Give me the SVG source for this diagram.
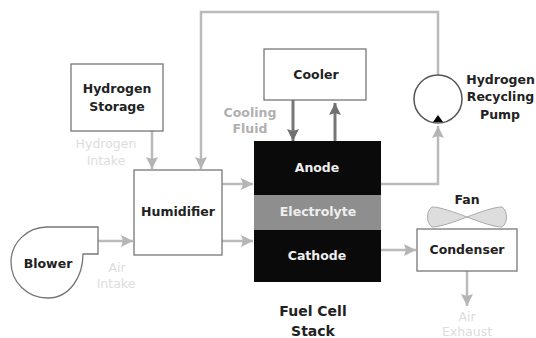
<svg xmlns="http://www.w3.org/2000/svg" width="536" height="338" viewBox="0 0 536 338">
<style>
text{font-family:"DejaVu Sans",Verdana,sans-serif;text-anchor:middle}
.b{font-size:12.5px;font-weight:700;fill:#222}
.w{font-size:12.5px;font-weight:700;fill:#eee}
.g{font-size:12.5px;font-weight:400;fill:#ddd}
.f{font-size:12.5px;font-weight:700;fill:#b0b0b0}
.s{font-size:14px;font-weight:700;fill:#222}
.box{fill:#fff;stroke:#777;stroke-width:1.3}
.l{fill:none;stroke:#bbb;stroke-width:2.5}
.d{fill:none;stroke:#777;stroke-width:3}
</style>
<defs>
<marker id="a" markerUnits="userSpaceOnUse" markerWidth="14" markerHeight="14" refX="12" refY="6" orient="auto"><path d="M0 0L12 6L0 12L2 6Z" fill="#b5b5b5"/></marker>
<marker id="k" markerUnits="userSpaceOnUse" markerWidth="14" markerHeight="14" refX="12" refY="6" orient="auto"><path d="M0 0L12 6L0 12L2 6Z" fill="#6f6f6f"/></marker>
</defs>
<rect width="536" height="338" fill="#fff"/>
<g id="connectors">
<path class="l" marker-end="url(#a)" d="M438 75V12H201V169"/>
<path class="l" marker-end="url(#a)" d="M152 131V169"/>
<path class="l" marker-end="url(#a)" d="M222 184H253"/>
<path class="l" marker-end="url(#a)" d="M222 241H253"/>
<path class="l" marker-end="url(#a)" d="M98 241H133"/>
<path class="l" marker-end="url(#a)" d="M381 184H438V126"/>
<path class="l" marker-end="url(#a)" d="M381 250H416"/>
<path class="l" marker-end="url(#a)" d="M467 271V306"/>
<path class="d" marker-end="url(#k)" d="M293 100V141"/>
<path class="d" marker-end="url(#k)" d="M335 142V103"/>
</g>
<g id="hydrogen-storage"><rect class="box" x="71" y="64" width="92" height="67"/><text class="b" x="117" y="93">Hydrogen</text><text class="b" x="117" y="111">Storage</text></g>
<g id="humidifier"><rect class="box" x="134" y="170" width="88" height="85"/><text class="b" x="178" y="216">Humidifier</text></g>
<g id="cooler"><rect class="box" x="264" y="49" width="102" height="51"/><text class="b" x="316" y="79">Cooler</text></g>
<g id="blower"><path fill="#fff" stroke="#777" stroke-width="1.3" d="M47 227H98V254H83C83 276 70 298 48 298C27 298 11 282 11 262C11 243 27 227 47 227Z"/><text class="b" x="48" y="268">Blower</text></g>
<g id="stack">
<rect x="254" y="141" width="127" height="54" fill="#0a0a0a"/>
<rect x="254" y="195" width="127" height="35" fill="#8e8e8e"/>
<rect x="254" y="230" width="127" height="52" fill="#0a0a0a"/>
<text class="w" x="317" y="172">Anode</text><text class="w" x="318" y="216">Electrolyte</text><text class="w" x="317" y="260">Cathode</text>
<text class="s" x="313" y="316">Fuel Cell</text><text class="s" x="313" y="336">Stack</text>
</g>
<g id="pump"><circle cx="438" cy="99" r="24" fill="#fff" stroke="#555" stroke-width="1.5"/><path d="M433 122L438 115L443 122Z" fill="#000"/><text class="b" x="500.500" y="84">Hydrogen</text><text class="b" x="500.500" y="101">Recycling</text><text class="b" x="500" y="119">Pump</text></g>
<g id="fan"><path d="M467 217C480 212 494 207 502 207C508 211 508 223 502 227C494 227 480 222 467 217C454 222 440 227 432 227C426 223 426 211 432 207C440 207 454 212 467 217Z" fill="#ddd" stroke="#aaa"/><text class="b" x="467" y="204">Fan</text></g>
<g id="condenser"><rect class="box" x="417" y="229" width="100" height="42"/><text class="b" x="467" y="254">Condenser</text></g>
<g id="labels">
<text class="g" x="106" y="148">Hydrogen</text><text class="g" x="106" y="165">Intake</text>
<text class="f" x="250" y="117">Cooling</text><text class="f" x="250" y="133">Fluid</text>
<text class="g" x="117" y="272">Air</text><text class="g" x="116" y="288">Intake</text>
<text class="g" x="467" y="321">Air</text><text class="g" x="467" y="336">Exhaust</text>
</g>
</svg>
